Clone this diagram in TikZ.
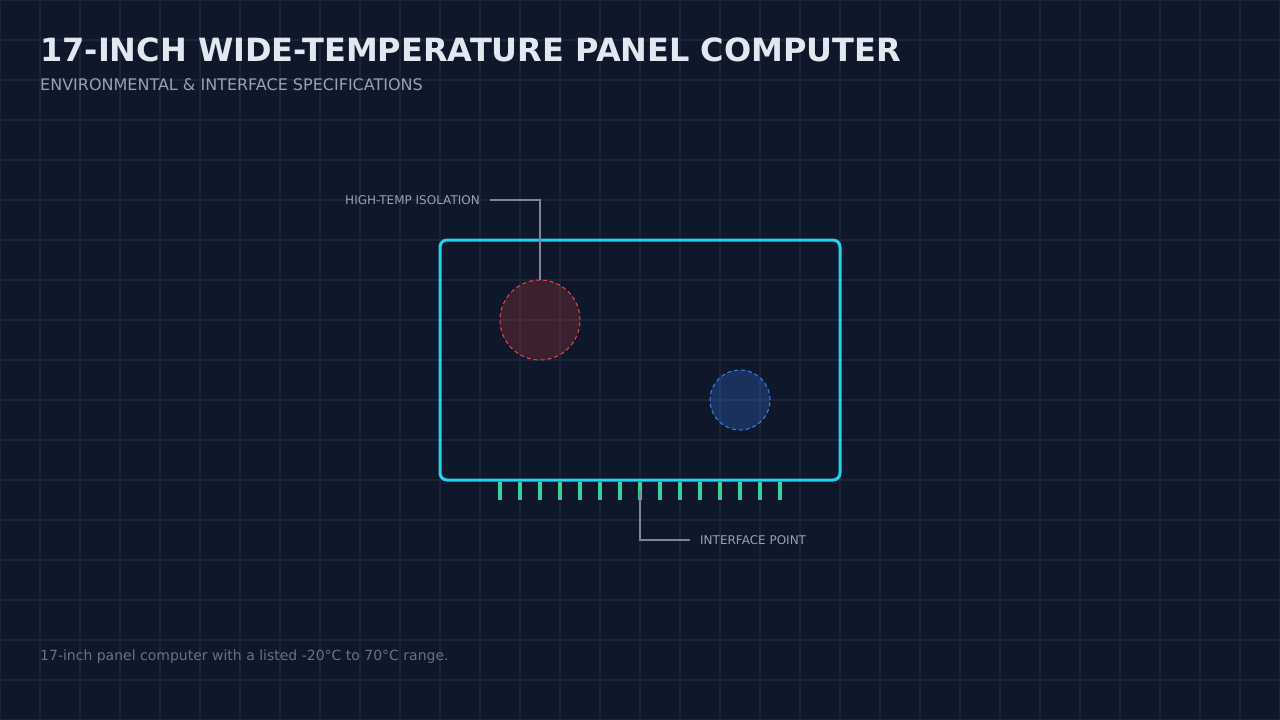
\documentclass[tikz,border=0pt]{standalone}
\usepackage{fontspec}
\setmainfont{DejaVu Sans}
\usetikzlibrary{positioning}

\definecolor{bgc}{HTML}{0F172A}
\definecolor{gridc}{HTML}{1B2537}
\definecolor{titlec}{HTML}{E2E8F0}
\definecolor{subc}{HTML}{94A3B8}
\definecolor{footc}{HTML}{64748B}
\definecolor{panelc}{HTML}{22D3EE}
\definecolor{pinc}{HTML}{34D399}
\definecolor{hotc}{HTML}{EF4444}
\definecolor{coolc}{HTML}{3B82F6}
\definecolor{leadc}{HTML}{7C8799}

\begin{document}
\begin{tikzpicture}[x=1pt,y=-1pt,
                    zone/.style={circle,draw,dash pattern=on 4pt off 3pt,line width=1pt,inner sep=0pt},
                    callout/.style={font=\fontsize{12}{14}\selectfont,text=subc,inner xsep=10pt,inner ysep=0pt},
                    leader/.style={draw=leadc,line width=1.2pt}]
  \useasboundingbox (0,0) rectangle (1280,720);
  \fill[bgc] (0,0) rectangle (1280,720);
  \foreach \x in {0,40,...,1280}
    \draw[gridc,line width=1.2pt] (\x,0) -- (\x,720);
  \foreach \y in {0,40,...,720}
    \draw[gridc,line width=1.2pt] (0,\y) -- (1280,\y);

  % heading
  \node[anchor=base west,inner sep=0pt,text=titlec,font=\fontsize{32}{38}\selectfont\bfseries] (title) at (40,61) {17-INCH WIDE-TEMPERATURE PANEL COMPUTER};
  \node[anchor=base west,inner sep=0pt,text=subc,font=\fontsize{16}{19}\selectfont] (subtitle) at (40,90) {ENVIRONMENTAL \& INTERFACE SPECIFICATIONS};

  % panel and pins
  \draw[panelc,line width=3pt,rounded corners=7pt] (440,240) rectangle (840,480);
  \foreach \i in {0,...,14}
    \fill[pinc] (498+20*\i,481.5) rectangle (502+20*\i,500);
  \coordinate (pin) at (640,490);

  % zones
  \node[zone,draw=hotc,fill=hotc,fill opacity=0.2,draw opacity=1,minimum size=80pt] (hot) at (540,320) {};
  \node[zone,draw=coolc,fill=coolc,fill opacity=0.25,draw opacity=1,minimum size=60pt] (cool) at (740,400) {};

  % callouts
  \node[callout,anchor=east] (hotlbl) at (490,200) {HIGH-TEMP ISOLATION};
  \node[callout,anchor=west] (iolbl) at (690,540) {INTERFACE POINT};
  \path[leader] (hot.north) |- (hotlbl.east);
  \path[leader] (pin) |- (iolbl.west);

  \node[anchor=base west,inner sep=0pt,text=footc,font=\fontsize{14}{17}\selectfont] (note) at (40,660) {17-inch panel computer with a listed -20°C to 70°C range.};
\end{tikzpicture}
\end{document}
